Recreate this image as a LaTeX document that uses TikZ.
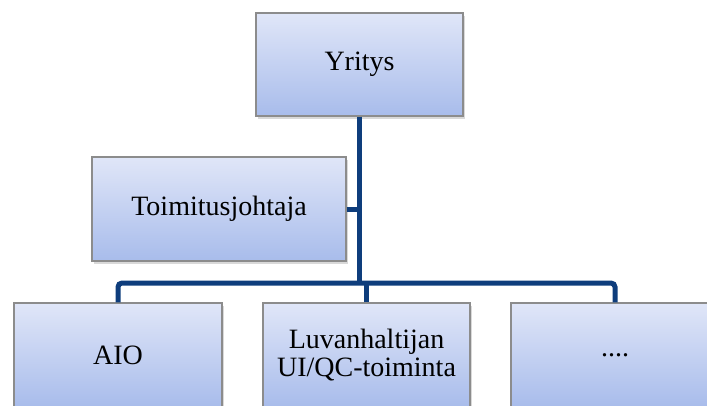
\documentclass[tikz,border=0pt]{standalone}
\usepackage{fontspec}
\setmainfont{Liberation Serif}
\usetikzlibrary{positioning,shadows}
\definecolor{boxtop}{HTML}{E0E6F8}
\definecolor{boxbot}{HTML}{A8BCEB}
\definecolor{boxline}{HTML}{8C8C8C}
\definecolor{linkblue}{HTML}{0E3D7C}
\tikzset{
  orgbox/.style={draw=boxline,line width=1.2pt,top color=boxtop,bottom color=boxbot,
    minimum width=207pt,minimum height=104pt,inner sep=0pt,align=center,
    font=\fontsize{28}{28}\selectfont,
    drop shadow={shadow xshift=2pt,shadow yshift=-3pt,opacity=0.3}},
  link/.style={draw=linkblue,line width=5pt}
}

\begin{document}
\begin{tikzpicture}[x=1pt,y=-1pt]
\useasboundingbox (0,0) rectangle (707,405);
\clip (0,0) rectangle (707,405);
\node[orgbox,minimum height=103pt] (yritys) at (359.5,64.5) {Yritys};
\node[orgbox,minimum width=254pt] (johtaja) at (219,209) {Toimitusjohtaja};
\node[orgbox,minimum width=208pt] (aio) at (118,355) {AIO};
\node[orgbox] (luvan) at (366.5,355) {Luvanhaltijan\\UI/QC-toiminta};
\node[orgbox,minimum width=208pt] (muut) at (615,355) {....};
\coordinate (bus) at (366.5,283);
% links
\draw[link] (yritys.south) -- (yritys.south |- bus);
\draw[link] (johtaja.east) -- (johtaja.east -| yritys.south);
\draw[link,rounded corners=4pt] (aio.north) |- (luvan.north |- bus) -| (muut.north);
\draw[link] (luvan.north) -- (luvan.north |- bus);
\end{tikzpicture}
\end{document}
